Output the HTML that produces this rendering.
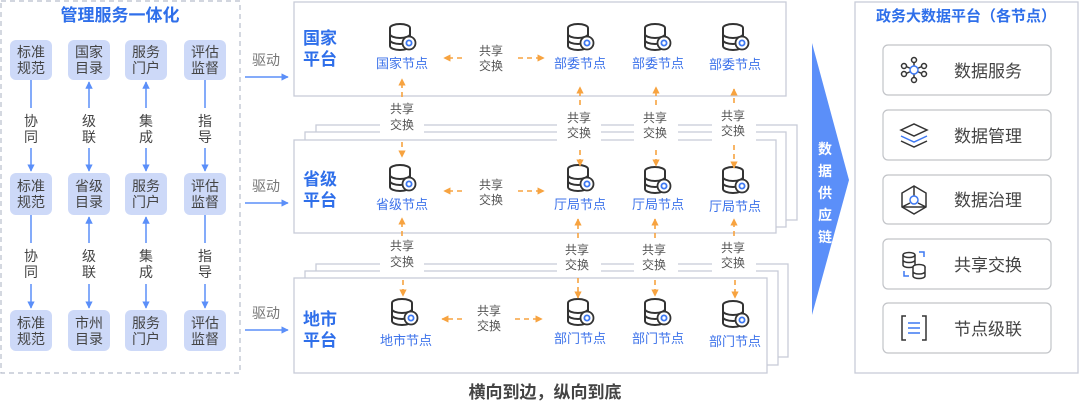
<!DOCTYPE html>
<html><head><meta charset="utf-8"><style>
html,body{margin:0;padding:0;background:#fff;width:1080px;height:415px;overflow:hidden}
svg text{font-family:"Liberation Sans","Noto Sans CJK SC",sans-serif}
</style></head><body>
<svg width="1080" height="415" viewBox="0 0 1080 415" xmlns="http://www.w3.org/2000/svg">
<defs>
<marker id="ab" viewBox="0 0 10 10" refX="9" refY="5" markerWidth="5" markerHeight="5" orient="auto-start-reverse"><path d="M0,0L10,5L0,10z" fill="#5b8ff9"/></marker>
<marker id="ao" viewBox="0 0 10 10" refX="9" refY="5" markerWidth="4.5" markerHeight="4.5" orient="auto-start-reverse"><path d="M0,0L10,5L0,10z" fill="#f7a340"/></marker>
<g id="db">
<ellipse cx="0" cy="-9" rx="10" ry="4" fill="#fff" stroke="#333" stroke-width="2"/>
<path d="M-10,-9V9A10,4 0 0 0 10,9V-9" fill="#fff" stroke="#333" stroke-width="2"/>
<path d="M-10,-3A10,4 0 0 0 10,-3M-10,3A10,4 0 0 0 10,3" fill="none" stroke="#333" stroke-width="2"/>
<circle cx="9" cy="6" r="6.5" fill="#fff" stroke="#333" stroke-width="1.8"/>
<circle cx="9" cy="6" r="2.6" fill="none" stroke="#3d78f2" stroke-width="1.8"/>
</g>
</defs>

<rect x="1" y="1" width="239" height="372" fill="#fff" stroke="#b8bdcc" stroke-width="1.2" stroke-dasharray="5,4"/>
<text x="120" y="21" text-anchor="middle" font-size="17" font-weight="bold" fill="#2f6fea">管理服务一体化</text>
<g fill="#cdd9f8">
<rect x="10" y="40" width="42" height="40" rx="6"/><rect x="68" y="40" width="42" height="40" rx="6"/><rect x="125" y="40" width="42" height="40" rx="6"/><rect x="184" y="40" width="42" height="40" rx="6"/>
<rect x="10" y="173" width="42" height="42" rx="6"/><rect x="68" y="173" width="42" height="42" rx="6"/><rect x="125" y="173" width="42" height="42" rx="6"/><rect x="184" y="173" width="42" height="42" rx="6"/>
<rect x="10" y="310" width="42" height="41" rx="6"/><rect x="68" y="310" width="42" height="41" rx="6"/><rect x="125" y="310" width="42" height="41" rx="6"/><rect x="184" y="310" width="42" height="41" rx="6"/>
</g>
<g font-size="14" fill="#444" text-anchor="middle">
<text x="31" y="57">标准</text><text x="31" y="73">规范</text>
<text x="89" y="57">国家</text><text x="89" y="73">目录</text>
<text x="146" y="57">服务</text><text x="146" y="73">门户</text>
<text x="205" y="57">评估</text><text x="205" y="73">监督</text>
<text x="31" y="191">标准</text><text x="31" y="207">规范</text>
<text x="89" y="191">省级</text><text x="89" y="207">目录</text>
<text x="146" y="191">服务</text><text x="146" y="207">门户</text>
<text x="205" y="191">评估</text><text x="205" y="207">监督</text>
<text x="31" y="328">标准</text><text x="31" y="344">规范</text>
<text x="89" y="328">市州</text><text x="89" y="344">目录</text>
<text x="146" y="328">服务</text><text x="146" y="344">门户</text>
<text x="205" y="328">评估</text><text x="205" y="344">监督</text>
<text x="31" y="126">协</text><text x="31" y="142">同</text>
<text x="89" y="126">级</text><text x="89" y="142">联</text>
<text x="146" y="126">集</text><text x="146" y="142">成</text>
<text x="205" y="126">指</text><text x="205" y="142">导</text>
<text x="31" y="261">协</text><text x="31" y="277">同</text>
<text x="89" y="261">级</text><text x="89" y="277">联</text>
<text x="146" y="261">集</text><text x="146" y="277">成</text>
<text x="205" y="261">指</text><text x="205" y="277">导</text>
</g>
<g stroke="#5b8ff9" stroke-width="1.5" fill="none">
<line x1="31" y1="80" x2="31" y2="108"/><line x1="31" y1="148" x2="31" y2="171" marker-end="url(#ab)"/>
<line x1="89" y1="82" x2="89" y2="108" marker-start="url(#ab)"/><line x1="89" y1="148" x2="89" y2="171" marker-end="url(#ab)"/>
<line x1="146" y1="82" x2="146" y2="108" marker-start="url(#ab)"/><line x1="146" y1="148" x2="146" y2="171" marker-end="url(#ab)"/>
<line x1="205" y1="80" x2="205" y2="108"/><line x1="205" y1="148" x2="205" y2="171" marker-end="url(#ab)"/>
<line x1="31" y1="215" x2="31" y2="243"/><line x1="31" y1="284" x2="31" y2="308" marker-end="url(#ab)"/>
<line x1="89" y1="217" x2="89" y2="243" marker-start="url(#ab)"/><line x1="89" y1="284" x2="89" y2="308" marker-end="url(#ab)"/>
<line x1="146" y1="217" x2="146" y2="243" marker-start="url(#ab)"/><line x1="146" y1="284" x2="146" y2="308" marker-end="url(#ab)"/>
<line x1="205" y1="215" x2="205" y2="243"/><line x1="205" y1="284" x2="205" y2="308" marker-end="url(#ab)"/>
<line x1="245" y1="77" x2="288" y2="77" marker-end="url(#ab)"/>
<line x1="245" y1="203" x2="288" y2="203" marker-end="url(#ab)"/>
<line x1="245" y1="330" x2="288" y2="330" marker-end="url(#ab)"/>
</g>
<g font-size="14" fill="#777" text-anchor="middle">
<text x="266" y="65">驱动</text><text x="266" y="191">驱动</text><text x="266" y="318">驱动</text>
</g>

<g fill="#fff" stroke="#c8ccd8" stroke-width="1.3">
<rect x="294" y="2" width="492" height="94"/>
<rect x="316" y="125" width="481" height="95"/>
<rect x="305" y="132" width="481" height="95"/>
<rect x="294" y="140" width="482" height="93"/>
<rect x="316" y="264" width="472" height="93"/>
<rect x="305" y="271" width="473" height="94"/>
<rect x="294" y="278" width="473" height="95"/>
</g>
<g font-size="17" font-weight="bold" fill="#2f6fea">
<text x="303" y="44">国家</text><text x="303" y="65">平台</text>
<text x="303" y="185">省级</text><text x="303" y="206">平台</text>
<text x="303" y="325">地市</text><text x="303" y="346">平台</text>
</g>
<g>
<use href="#db" x="400" y="37"/><use href="#db" x="578" y="37"/><use href="#db" x="655" y="37"/><use href="#db" x="733" y="37"/>
<use href="#db" x="400" y="178"/><use href="#db" x="578" y="178"/><use href="#db" x="655" y="180"/><use href="#db" x="733" y="180"/>
<use href="#db" x="402" y="312"/><use href="#db" x="578" y="312"/><use href="#db" x="655" y="312"/><use href="#db" x="733" y="314"/>
</g>
<g font-size="13" fill="#3c72ea" text-anchor="middle">
<text x="402" y="68">国家节点</text><text x="580" y="68">部委节点</text><text x="658" y="68">部委节点</text><text x="735" y="69">部委节点</text>
<text x="402" y="209">省级节点</text><text x="580" y="209">厅局节点</text><text x="658" y="209">厅局节点</text><text x="735" y="211">厅局节点</text>
<text x="406" y="345">地市节点</text><text x="580" y="343">部门节点</text><text x="658" y="343">部门节点</text><text x="735" y="346">部门节点</text>
</g>
<g font-size="12" fill="#555" text-anchor="middle">
<rect x="380" y="100" width="44" height="36" fill="#fff"/>
<rect x="557" y="110" width="44" height="34" fill="#fff"/>
<rect x="634" y="110" width="44" height="34" fill="#fff"/>
<rect x="712" y="108" width="44" height="34" fill="#fff"/>
<rect x="380" y="236" width="44" height="36" fill="#fff"/>
<rect x="557" y="240" width="44" height="34" fill="#fff"/>
<rect x="634" y="240" width="44" height="34" fill="#fff"/>
<rect x="712" y="238" width="44" height="34" fill="#fff"/>
<text x="491" y="55">共享</text><text x="491" y="70">交换</text>
<text x="491" y="189">共享</text><text x="491" y="204">交换</text>
<text x="489" y="315">共享</text><text x="489" y="330">交换</text>
<text x="402" y="113">共享</text><text x="402" y="129">交换</text>
<text x="579" y="122">共享</text><text x="579" y="137">交换</text>
<text x="655" y="122">共享</text><text x="655" y="137">交换</text>
<text x="733" y="120">共享</text><text x="733" y="135">交换</text>
<text x="402" y="250">共享</text><text x="402" y="266">交换</text>
<text x="577" y="254">共享</text><text x="577" y="269">交换</text>
<text x="654" y="254">共享</text><text x="654" y="269">交换</text>
<text x="733" y="252">共享</text><text x="733" y="267">交换</text>
</g>
<g stroke="#f7a340" stroke-width="1.6" fill="none" stroke-dasharray="5,4">
<line x1="462" y1="58" x2="444" y2="58" marker-end="url(#ao)"/><line x1="518" y1="58" x2="544" y2="58" marker-end="url(#ao)"/>
<line x1="462" y1="191" x2="444" y2="191" marker-end="url(#ao)"/><line x1="518" y1="191" x2="544" y2="191" marker-end="url(#ao)"/>
<line x1="462" y1="319" x2="442" y2="319" marker-end="url(#ao)"/><line x1="515" y1="319" x2="542" y2="319" marker-end="url(#ao)"/>
<line x1="402" y1="97" x2="402" y2="79" marker-end="url(#ao)"/><line x1="402" y1="142" x2="402" y2="157" marker-end="url(#ao)"/>
<line x1="580" y1="105" x2="580" y2="87" marker-end="url(#ao)"/><line x1="580" y1="150" x2="580" y2="166" marker-end="url(#ao)"/>
<line x1="656" y1="105" x2="656" y2="87" marker-end="url(#ao)"/><line x1="656" y1="150" x2="656" y2="166" marker-end="url(#ao)"/>
<line x1="734" y1="103" x2="734" y2="89" marker-end="url(#ao)"/><line x1="734" y1="145" x2="734" y2="168" marker-end="url(#ao)"/>
<line x1="402" y1="236" x2="402" y2="218" marker-end="url(#ao)"/><line x1="403" y1="280" x2="403" y2="296" marker-end="url(#ao)"/>
<line x1="578" y1="238" x2="578" y2="219" marker-end="url(#ao)"/><line x1="578" y1="278" x2="578" y2="298" marker-end="url(#ao)"/>
<line x1="655" y1="238" x2="655" y2="219" marker-end="url(#ao)"/><line x1="655" y1="280" x2="655" y2="296" marker-end="url(#ao)"/>
<line x1="734" y1="236" x2="734" y2="219" marker-end="url(#ao)"/><line x1="735" y1="280" x2="735" y2="298" marker-end="url(#ao)"/>
</g>

<polygon points="812,43 849,180 812,315" fill="#5b8ff9"/>
<g font-size="14" font-weight="bold" fill="#fff" text-anchor="middle">
<text x="825" y="154">数</text><text x="825" y="176">据</text><text x="825" y="198">供</text><text x="825" y="220">应</text><text x="825" y="242">链</text>
</g>

<rect x="855" y="2" width="223" height="371" fill="#fff" stroke="#c8ccd8" stroke-width="1.3"/>
<text x="966" y="21" text-anchor="middle" font-size="15" font-weight="bold" fill="#2f6fea">政务大数据平台（各节点）</text>
<g fill="#fff" stroke="#c2c4c8" stroke-width="1.2">
<rect x="883" y="45" width="168" height="50" rx="5"/>
<rect x="883" y="110" width="168" height="50" rx="5"/>
<rect x="883" y="175" width="168" height="49" rx="5"/>
<rect x="883" y="239" width="168" height="50" rx="5"/>
<rect x="883" y="303" width="168" height="50" rx="5"/>
</g>
<g font-size="17" fill="#444">
<text x="954" y="77">数据服务</text><text x="954" y="142">数据管理</text><text x="954" y="206">数据治理</text><text x="954" y="271">共享交换</text><text x="954" y="335">节点级联</text>
</g>
<g fill="none" stroke="#333" stroke-width="1.5">
<g transform="translate(914,70)">
<line x1="0" y1="0" x2="0" y2="-9"/><line x1="0" y1="0" x2="0" y2="9"/><line x1="0" y1="0" x2="-9" y2="-4"/><line x1="0" y1="0" x2="9" y2="-4"/><line x1="0" y1="0" x2="-9" y2="4"/><line x1="0" y1="0" x2="9" y2="4"/>
<circle cx="0" cy="-10" r="2.5" fill="#fff"/><circle cx="0" cy="10" r="2.5" fill="#fff"/><circle cx="-10" cy="-4" r="2.5" fill="#fff"/><circle cx="10" cy="-4" r="2.5" fill="#fff"/><circle cx="-10" cy="4" r="2.5" fill="#fff"/><circle cx="10" cy="4" r="2.5" fill="#fff"/>
<circle cx="0" cy="0" r="4" fill="#fff" stroke="#3d78f2"/>
</g>
<g transform="translate(914,136)">
<path d="M-13,-6L0,-12L13,-6L0,0Z"/><path d="M-13,0L0,6L13,0" stroke="#3d78f2"/><path d="M-13,5L0,11L13,5"/>
</g>
<g transform="translate(914,200)">
<path d="M0,-14L12,-7L12,7L0,14L-12,7L-12,-7Z"/>
<path d="M0,-14V-4M-12,7L-4,3M12,7L4,3M-12,7H12" />
<circle cx="0" cy="0" r="4" fill="#fff" stroke="#3d78f2"/>
</g>
<g transform="translate(914,264)">
<ellipse cx="-5" cy="-9" rx="6" ry="2.5"/><path d="M-11,-9V1A6,2.5 0 0 0 1,1V-9M-11,-4A6,2.5 0 0 0 1,-4"/>
<ellipse cx="5" cy="3" rx="6" ry="2.5" fill="#fff"/><path d="M-1,3V12A6,2.5 0 0 0 11,12V3M-1,7.5A6,2.5 0 0 0 11,7.5" fill="#fff"/>
<path d="M5,-12H10V-7M-10,7V12H-5" stroke="#3d78f2"/>
</g>
<g transform="translate(914,328)">
<path d="M-8,-12H-12V12H-8M8,-12H12V12H8"/>
<path d="M-6,-5H6M-6,0H6M-6,5H6" stroke="#3d78f2"/>
</g>
</g>

<text x="545" y="398" text-anchor="middle" font-size="17" font-weight="bold" fill="#444">横向到边，纵向到底</text>
</svg>
</body></html>
